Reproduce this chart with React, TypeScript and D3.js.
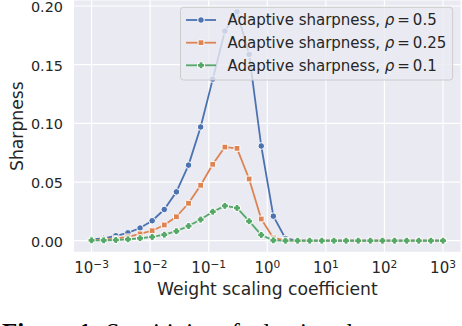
import React from 'react';
import * as d3 from 'd3';

// weight scaling coefficients (30 log-spaced points, 1e-3 .. 1e3)
const coefficients = [
  0.001, 0.00161, 0.002593, 0.004175, 0.006723, 0.01083, 0.01743, 0.02807, 0.0452, 0.07279,
  0.1172, 0.1887, 0.3039, 0.4894, 0.788, 1.269, 2.043, 3.29, 5.298, 8.532,
  13.74, 22.12, 35.62, 57.36, 92.37, 148.7, 239.5, 385.7, 621.0, 1000,
];

const rho05 = [
  0.0012, 0.002, 0.0042, 0.0067, 0.0108, 0.017, 0.0266, 0.0416, 0.0644, 0.0969,
  0.1377, 0.1786, 0.195, 0.1588, 0.0807, 0.0209, 0.0019, 0, 0, 0,
  0, 0, 0, 0, 0, 0, 0, 0, 0, 0,
];
const rho025 = [
  0.0006, 0.0009, 0.0017, 0.0032, 0.0058, 0.0085, 0.0134, 0.0204, 0.0319, 0.0472,
  0.0651, 0.0798, 0.0787, 0.0526, 0.0185, 0.0023, 0.0002, 0, 0, 0,
  0, 0, 0, 0, 0, 0, 0, 0, 0, 0,
];
const rho01 = [
  0.0003, 0.0003, 0.0006, 0.0012, 0.0021, 0.0032, 0.0051, 0.0081, 0.0125, 0.018,
  0.0247, 0.0297, 0.0279, 0.0166, 0.0049, 0.0003, 0, 0, 0, 0,
  0, 0, 0, 0, 0, 0, 0, 0, 0, 0,
];

const seriesNames = ['0.5', '0.25', '0.1'];
const seriesValues = [rho05, rho025, rho01];
const colors = ['#4c72b0', '#dd8452', '#55a868'];
const markerShapes = ['circle', 'square', 'plus'];

const xTickExps = [-3, -2, -1, 0, 1, 2, 3];
const yTicks = [0, 0.05, 0.1, 0.15, 0.2];

const W = 462;
const H = 326;
const plot = { left: 74, right: 460.6, top: 0.5, bottom: 251.8 };
const font = 'DejaVu Sans, sans-serif';
const textColor = '#262626';

const x = d3
  .scaleLog()
  .domain([Math.pow(10, -3.3), Math.pow(10, 3.3)])
  .range([plot.left, plot.right]);

const y = d3.scaleLinear().domain([0, 0.2]).range([240.7, 6]);

const line = d3
  .line<number>()
  .x((d, i) => x(coefficients[i]))
  .y(d => y(d));

function Marker({ shape, cx, cy, fill }: { shape: string; cx: number; cy: number; fill: string }) {
  const stroke = '#ffffff';
  if (shape === 'square') {
    return <rect x={cx - 2.9} y={cy - 2.9} width={5.8} height={5.8} rx={0.8} fill={fill} stroke={stroke} strokeWidth={1} />;
  }
  if (shape === 'plus') {
    const a = 1.8;
    const b = 3.5;
    const p = [
      [-a, -b], [a, -b], [a, -a], [b, -a], [b, a], [a, a],
      [a, b], [-a, b], [-a, a], [-b, a], [-b, -a], [-a, -a],
    ]
      .map(([px, py]) => `${cx + px},${cy + py}`)
      .join(' ');
    return <polygon points={p} fill={fill} stroke={stroke} strokeWidth={1} strokeLinejoin="round" />;
  }
  return <circle cx={cx} cy={cy} r={3.3} fill={fill} stroke={stroke} strokeWidth={1} />;
}

export default function App() {
  const legend = { x: 180.5, y: 7.3, w: 272.2, h: 72.7 };
  const rowY = [20, 42.7, 65.3];

  return (
    <svg
      width={W}
      height={H}
      viewBox={`0 0 ${W} ${H}`}
      style={{ position: 'absolute', left: 0, top: 0, background: '#ffffff' }}
      fontFamily={font}
    >
      <rect x={plot.left} y={plot.top} width={plot.right - plot.left} height={plot.bottom - plot.top} fill="#eaeaf2" />

      {/* grid */}
      {xTickExps.map(e => (
        <line key={'gx' + e} x1={x(Math.pow(10, e))} x2={x(Math.pow(10, e))} y1={plot.top} y2={plot.bottom} stroke="#fff" strokeWidth={1.2} />
      ))}
      {yTicks.map(t => (
        <line key={'gy' + t} x1={plot.left} x2={plot.right} y1={y(t)} y2={y(t)} stroke="#fff" strokeWidth={1.2} />
      ))}

      {/* series */}
      {seriesValues.map((vals, si) => (
        <g key={'s' + si}>
          <path d={line(vals) || ''} fill="none" stroke={colors[si]} strokeWidth={1.8} strokeLinejoin="round" />
          {vals.map((v, i) => (
            <Marker key={i} shape={markerShapes[si]} cx={x(coefficients[i])} cy={y(v)} fill={colors[si]} />
          ))}
        </g>
      ))}

      {/* y ticks */}
      {yTicks.map(t => (
        <text key={'yt' + t} x={63} y={y(t)} dy="0.42em" textAnchor="end" fontSize={14.4} fill={textColor}>
          {t.toFixed(2)}
        </text>
      ))}

      {/* x ticks */}
      {xTickExps.map(e => (
        <text key={'xt' + e} x={x(Math.pow(10, e))} y={273.3} textAnchor="middle" fontSize={15} fill={textColor}>
          10
          <tspan fontSize={10.6} dy={-5.8}>
            {e < 0 ? '\u2212' + Math.abs(e) : String(e)}
          </tspan>
        </text>
      ))}

      {/* axis labels */}
      <text x={(plot.left + plot.right) / 2} y={294.5} textAnchor="middle" fontSize={17.2} fill={textColor}>
        Weight scaling coefficient
      </text>
      <text transform={`translate(22.5, ${(plot.top + plot.bottom) / 2}) rotate(-90)`} textAnchor="middle" fontSize={17.2} fill={textColor}>
        Sharpness
      </text>

      {/* legend */}
      <rect x={legend.x} y={legend.y} width={legend.w} height={legend.h} rx={3} fill="#eaeaf2" fillOpacity={0.8} stroke="#cccccc" strokeWidth={1} />
      {seriesNames.map((name, i) => (
        <g key={'lg' + i}>
          <line x1={186} x2={216} y1={rowY[i]} y2={rowY[i]} stroke={colors[i]} strokeWidth={1.8} />
          <Marker shape={markerShapes[i]} cx={201} cy={rowY[i]} fill={colors[i]} />
          <text x={227.5} y={rowY[i] + 5.4} fontSize={15} fill={textColor}>
            Adaptive sharpness,{' '}
            <tspan fontStyle="italic">ρ</tspan>
            {'\u2009=\u2009' + name}
          </text>
        </g>
      ))}

      {/* caption, cut off at the bottom of the picture */}
      <text x={2} y={341} fontFamily="Liberation Serif, serif" fontSize={25} fill="#000">
        <tspan fontWeight="bold">Figure 1:</tspan> Sensitivity of adaptive sharpness
      </text>
    </svg>
  );
}
